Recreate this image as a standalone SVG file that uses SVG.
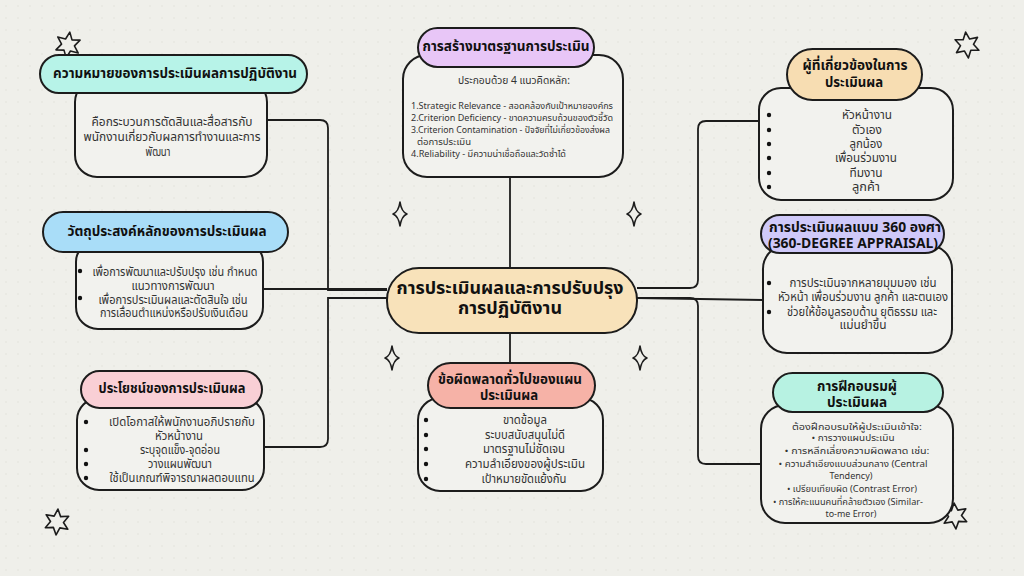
<svg xmlns="http://www.w3.org/2000/svg" xmlns:xlink="http://www.w3.org/1999/xlink" width="1024" height="576" viewBox="0 0 1024 576">
<defs>
<pattern id="dots" width="12" height="12" patternUnits="userSpaceOnUse">
<circle cx="6" cy="6" r="0.7" fill="#dcdcd5"/>
</pattern>
<path id="star" d="M0,-13 L3.25,-5.63 L11.26,-6.5 L6.5,0 L11.26,6.5 L3.25,5.63 L0,13 L-3.25,5.63 L-11.26,6.5 L-6.5,0 L-11.26,-6.5 L-3.25,-5.63 Z"/>
<path id="sparkle" d="M0,-12 Q1.5,-2 7,0 Q1.5,2 0,12 Q-1.5,2 -7,0 Q-1.5,-2 0,-12 Z"/>
<style>
text{font-family:"Noto Sans Thai","Noto Sans","DejaVu Sans",sans-serif;}
.h{font-weight:700;fill:#111;text-anchor:middle;}
.b{fill:#333;text-anchor:middle;}
.bl{fill:#333;text-anchor:start;}
.box{stroke:#1c1c1c;stroke-width:2;}
.body{fill:#f2f2ee;stroke:#1c1c1c;stroke-width:2;}
.con{fill:none;stroke:#1c1c1c;stroke-width:1.8;}
.dec{fill:#efefea;stroke:#1c1c1c;stroke-width:1.6;stroke-linejoin:round;}
.bul{fill:#111;}
</style>
</defs>
<rect width="1024" height="576" fill="#efefea"/>
<rect width="1024" height="576" fill="url(#dots)"/>

<g id="connectors">
<path class="con" d="M267,120 H320 Q328,120 328,128 V290 H387"/>
<path class="con" d="M263,289 H387"/>
<path class="con" d="M263,447 H320 Q328,447 328,439 V298 H387"/>
<path class="con" d="M637,288 H690 Q698,288 698,280 V129 Q698,121 706,121 H760"/>
<path class="con" d="M637,298 L763,300"/>
<path class="con" d="M637,298 H690 Q698,298 698,306 V456 Q698,464 706,464 H761"/>
<path class="con" d="M510,177 V268"/>
<path class="con" d="M510,333 V363"/>
</g>

<g id="decorations">
<use xlink:href="#star" class="dec" transform="translate(68,45) rotate(8)"/>
<use xlink:href="#star" class="dec" transform="translate(967,45) rotate(-6)"/>
<use xlink:href="#star" class="dec" transform="translate(57,522) rotate(4)"/>
<use xlink:href="#star" class="dec" transform="translate(955,516) rotate(-4)"/>
<use xlink:href="#sparkle" class="dec" transform="translate(400,214)"/>
<use xlink:href="#sparkle" class="dec" transform="translate(634,214)"/>
<use xlink:href="#sparkle" class="dec" transform="translate(392,358)"/>
<use xlink:href="#sparkle" class="dec" transform="translate(640,358)"/>
</g>

<g id="node-center">
<rect class="box" x="387" y="268" width="250" height="65" rx="32" fill="#f8e2ba"/>
<text class="h" x="510" y="294" font-size="18" textLength="227" lengthAdjust="spacingAndGlyphs">การประเมินผลและการปรับปรุง</text>
<text class="h" x="510" y="314" font-size="18" textLength="104" lengthAdjust="spacingAndGlyphs">การปฏิบัติงาน</text>
</g>

<g id="node-meaning">
<rect class="body" x="75" y="80" width="192" height="97" rx="22"/>
<rect class="box" x="40" y="55" width="267" height="38" rx="19" fill="#b7f3e8"/>
<text class="h" x="175" y="78" font-size="14" textLength="244" lengthAdjust="spacingAndGlyphs">ความหมายของการประเมินผลการปฏิบัติงาน</text>
<text class="b" x="172" y="126" font-size="12" textLength="161" lengthAdjust="spacingAndGlyphs">คือกระบวนการตัดสินและสื่อสารกับ</text>
<text class="b" x="172" y="141" font-size="12" textLength="177" lengthAdjust="spacingAndGlyphs">พนักงานเกี่ยวกับผลการทำงานและการ</text>
<text class="b" x="158" y="156" font-size="12" textLength="25" lengthAdjust="spacingAndGlyphs">พัฒนา</text>
</g>

<g id="node-standard">
<rect class="body" x="403" y="55" width="220" height="122" rx="24"/>
<rect class="box" x="418" y="28" width="176" height="39" rx="19.5" fill="#e8c6f7"/>
<text class="h" x="506" y="51" font-size="14.5" textLength="167" lengthAdjust="spacingAndGlyphs">การสร้างมาตรฐานการประเมิน</text>
<text class="b" x="514" y="84" font-size="10" textLength="112" lengthAdjust="spacingAndGlyphs">ประกอบด้วย 4 แนวคิดหลัก:</text>
<text class="bl" x="411" y="109" font-size="9.2" textLength="202" lengthAdjust="spacingAndGlyphs">1.Strategic Relevance - สอดคล้องกับเป้าหมายองค์กร</text>
<text class="bl" x="411" y="121" font-size="9.2" textLength="202" lengthAdjust="spacingAndGlyphs">2.Criterion Deficiency - ขาดความครบถ้วนของตัวชี้วัด</text>
<text class="bl" x="411" y="133" font-size="9.2" textLength="199" lengthAdjust="spacingAndGlyphs">3.Criterion Contamination - ปัจจัยที่ไม่เกี่ยวข้องส่งผล</text>
<text class="bl" x="417" y="145" font-size="9.2" textLength="54" lengthAdjust="spacingAndGlyphs">ต่อการประเมิน</text>
<text class="bl" x="411" y="157" font-size="9.2" textLength="155" lengthAdjust="spacingAndGlyphs">4.Reliability - มีความน่าเชื่อถือและวัดซ้ำได้</text>
</g>

<g id="node-stakeholders">
<rect class="body" x="759" y="88" width="194" height="112" rx="22"/>
<rect class="box" x="787" y="49" width="135" height="51" rx="25.5" fill="#f7ddb2"/>
<text class="h" x="855" y="70" font-size="14" textLength="105" lengthAdjust="spacingAndGlyphs">ผู้ที่เกี่ยวข้องในการ</text>
<text class="h" x="854" y="87" font-size="14" textLength="58" lengthAdjust="spacingAndGlyphs">ประเมินผล</text>
<circle class="bul" cx="769" cy="115" r="2.2"/>
<circle class="bul" cx="769" cy="130" r="2.2"/>
<circle class="bul" cx="769" cy="144" r="2.2"/>
<circle class="bul" cx="769" cy="158" r="2.2"/>
<circle class="bul" cx="769" cy="173" r="2.2"/>
<circle class="bul" cx="769" cy="187" r="2.2"/>
<text class="b" x="867" y="119" font-size="11.5" textLength="50" lengthAdjust="spacingAndGlyphs">หัวหน้างาน</text>
<text class="b" x="867" y="134" font-size="11.5" textLength="30" lengthAdjust="spacingAndGlyphs">ตัวเอง</text>
<text class="b" x="866" y="148" font-size="11.5" textLength="33" lengthAdjust="spacingAndGlyphs">ลูกน้อง</text>
<text class="b" x="866" y="162" font-size="11.5" textLength="62" lengthAdjust="spacingAndGlyphs">เพื่อนร่วมงาน</text>
<text class="b" x="866" y="177" font-size="11.5" textLength="33" lengthAdjust="spacingAndGlyphs">ทีมงาน</text>
<text class="b" x="866" y="191" font-size="11.5" textLength="28" lengthAdjust="spacingAndGlyphs">ลูกค้า</text>
</g>

<g id="node-objectives">
<rect class="body" x="76" y="240" width="187" height="89" rx="22"/>
<rect class="box" x="43" y="212" width="245" height="40" rx="20" fill="#a9ddf8"/>
<text class="h" x="167" y="236" font-size="14" textLength="199" lengthAdjust="spacingAndGlyphs">วัตถุประสงค์หลักของการประเมินผล</text>
<circle class="bul" cx="80" cy="271" r="2.2"/>
<circle class="bul" cx="80" cy="298" r="2.2"/>
<text class="b" x="175" y="276" font-size="11.5" textLength="165" lengthAdjust="spacingAndGlyphs">เพื่อการพัฒนาและปรับปรุง เช่น กำหนด</text>
<text class="b" x="173" y="290" font-size="11.5" textLength="83" lengthAdjust="spacingAndGlyphs">แนวทางการพัฒนา</text>
<text class="b" x="173" y="304" font-size="11.5" textLength="149" lengthAdjust="spacingAndGlyphs">เพื่อการประเมินผลและตัดสินใจ เช่น</text>
<text class="b" x="174" y="317" font-size="11.5" textLength="148" lengthAdjust="spacingAndGlyphs">การเลื่อนตำแหน่งหรือปรับเงินเดือน</text>
</g>

<g id="node-360">
<rect class="body" x="763" y="245" width="189" height="108" rx="24"/>
<rect class="box" x="761" y="215" width="183" height="38" rx="19" fill="#cfc9f9"/>
<text class="h" x="855" y="232" font-size="13.5" textLength="172" lengthAdjust="spacingAndGlyphs">การประเมินผลแบบ 360 องศา</text>
<text class="h" x="853" y="248" font-size="13.5" textLength="170" lengthAdjust="spacingAndGlyphs">(360-DEGREE APPRAISAL)</text>
<circle class="bul" cx="769" cy="283" r="2.2"/>
<circle class="bul" cx="769" cy="312" r="2.2"/>
<text class="b" x="863" y="287" font-size="11.5" textLength="147" lengthAdjust="spacingAndGlyphs">การประเมินจากหลายมุมมอง เช่น</text>
<text class="b" x="863" y="301" font-size="11.5" textLength="170" lengthAdjust="spacingAndGlyphs">หัวหน้า เพื่อนร่วมงาน ลูกค้า และตนเอง</text>
<text class="b" x="862" y="316" font-size="11.5" textLength="150" lengthAdjust="spacingAndGlyphs">ช่วยให้ข้อมูลรอบด้าน ยุติธรรม และ</text>
<text class="b" x="863" y="329" font-size="11.5" textLength="47" lengthAdjust="spacingAndGlyphs">แม่นยำขึ้น</text>
</g>

<g id="node-benefits">
<rect class="body" x="77" y="398" width="187" height="92" rx="22"/>
<rect class="box" x="81" y="371" width="181" height="37" rx="18.5" fill="#f9cfd5"/>
<text class="h" x="172" y="393" font-size="14" textLength="147" lengthAdjust="spacingAndGlyphs">ประโยชน์ของการประเมินผล</text>
<circle class="bul" cx="86" cy="422" r="2.2"/>
<circle class="bul" cx="86" cy="450" r="2.2"/>
<circle class="bul" cx="86" cy="464" r="2.2"/>
<circle class="bul" cx="86" cy="478" r="2.2"/>
<text class="b" x="182" y="426" font-size="11.5" textLength="146" lengthAdjust="spacingAndGlyphs">เปิดโอกาสให้พนักงานอภิปรายกับ</text>
<text class="b" x="179" y="440" font-size="11.5" textLength="48" lengthAdjust="spacingAndGlyphs">หัวหน้างาน</text>
<text class="b" x="180" y="454" font-size="11.5" textLength="80" lengthAdjust="spacingAndGlyphs">ระบุจุดแข็ง-จุดอ่อน</text>
<text class="b" x="180" y="468" font-size="11.5" textLength="64" lengthAdjust="spacingAndGlyphs">วางแผนพัฒนา</text>
<text class="b" x="182" y="482" font-size="11.5" textLength="145" lengthAdjust="spacingAndGlyphs">ใช้เป็นเกณฑ์พิจารณาผลตอบแทน</text>
</g>

<g id="node-errors">
<rect class="body" x="418" y="398" width="185" height="93" rx="22"/>
<rect class="box" x="428" y="363" width="167" height="45" rx="22.5" fill="#f6b2a7"/>
<text class="h" x="510" y="384" font-size="14" textLength="144" lengthAdjust="spacingAndGlyphs">ข้อผิดพลาดทั่วไปของแผน</text>
<text class="h" x="509" y="400" font-size="14" textLength="58" lengthAdjust="spacingAndGlyphs">ประเมินผล</text>
<circle class="bul" cx="426" cy="420" r="2.2"/>
<circle class="bul" cx="426" cy="435" r="2.2"/>
<circle class="bul" cx="426" cy="449" r="2.2"/>
<circle class="bul" cx="426" cy="464" r="2.2"/>
<circle class="bul" cx="426" cy="479" r="2.2"/>
<text class="b" x="525" y="424" font-size="11.5" textLength="44" lengthAdjust="spacingAndGlyphs">ขาดข้อมูล</text>
<text class="b" x="525" y="439" font-size="11.5" textLength="80" lengthAdjust="spacingAndGlyphs">ระบบสนับสนุนไม่ดี</text>
<text class="b" x="524" y="453" font-size="11.5" textLength="82" lengthAdjust="spacingAndGlyphs">มาตรฐานไม่ชัดเจน</text>
<text class="b" x="525" y="468" font-size="11.5" textLength="120" lengthAdjust="spacingAndGlyphs">ความลำเอียงของผู้ประเมิน</text>
<text class="b" x="524" y="483" font-size="11.5" textLength="85" lengthAdjust="spacingAndGlyphs">เป้าหมายขัดแย้งกัน</text>
</g>

<g id="node-training">
<rect class="body" x="761" y="405" width="192" height="118" rx="24"/>
<rect class="box" x="773" y="373" width="170" height="39" rx="19.5" fill="#b7f2e2"/>
<text class="h" x="857" y="391" font-size="14" textLength="80" lengthAdjust="spacingAndGlyphs">การฝึกอบรมผู้</text>
<text class="h" x="857" y="407" font-size="14" textLength="60" lengthAdjust="spacingAndGlyphs">ประเมินผล</text>
<text class="b" x="857" y="430" font-size="9.5" textLength="130" lengthAdjust="spacingAndGlyphs">ต้องฝึกอบรมให้ผู้ประเมินเข้าใจ:</text>
<text class="b" x="853" y="441" font-size="9.5" textLength="83" lengthAdjust="spacingAndGlyphs">• การวางแผนประเมิน</text>
<text class="b" x="857" y="454" font-size="9.5" textLength="145" lengthAdjust="spacingAndGlyphs">• การหลีกเลี่ยงความผิดพลาด เช่น:</text>
<text class="b" x="853" y="467" font-size="9.5" textLength="149" lengthAdjust="spacingAndGlyphs">• ความลำเอียงแบบส่วนกลาง (Central</text>
<text class="b" x="851" y="479" font-size="9.5" textLength="43" lengthAdjust="spacingAndGlyphs">Tendency)</text>
<text class="b" x="852" y="492" font-size="9.5" textLength="130" lengthAdjust="spacingAndGlyphs">• เปรียบเทียบผิด (Contrast Error)</text>
<text class="b" x="848" y="505" font-size="9.5" textLength="150" lengthAdjust="spacingAndGlyphs">• การให้คะแนนคนที่คล้ายตัวเอง (Similar-</text>
<text class="b" x="851" y="517" font-size="9.5" textLength="51" lengthAdjust="spacingAndGlyphs">to-me Error)</text>
</g>
</svg>
